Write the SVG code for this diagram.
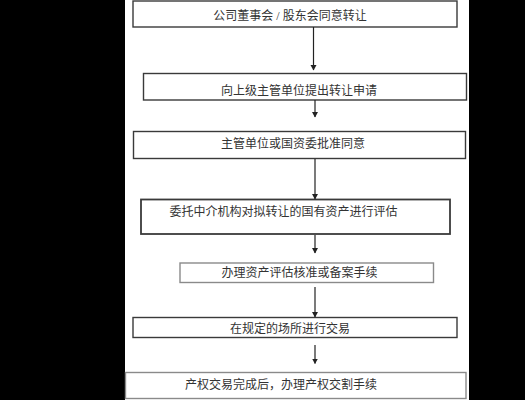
<svg xmlns="http://www.w3.org/2000/svg" width="525" height="400" viewBox="0 0 525 400">
<style>
.box{fill:#fff;stroke:#3a3a3a;stroke-width:1.4}
.lt{stroke:#8a8a8a}
.t{font-family:"Liberation Serif","Noto Sans CJK SC",serif;font-size:12px;fill:#333;dominant-baseline:central}
.c{text-anchor:middle}
.ln{stroke:#222;stroke-width:1.2;fill:none}
</style>
<defs>
<marker id="ah" markerWidth="6" markerHeight="7" refX="5" refY="3.5" orient="auto" markerUnits="userSpaceOnUse">
<path d="M0,0.5 L5.5,3.5 L0,6.5 Z" fill="#222"/>
</marker>
</defs>
<rect x="0" y="0" width="525" height="400" fill="#fff"/>
<rect x="0" y="0" width="125" height="400" fill="#000"/>
<rect x="469" y="0" width="56" height="400" fill="#000"/>
<g id="n1"><rect class="box" x="133" y="1" width="324" height="26"/><text class="t c" x="290" y="16">公司董事会 / 股东会同意转让</text></g>
<g id="n2"><rect class="box" x="143.5" y="73.5" width="323" height="26.5"/><text class="t c" x="299" y="91">向上级主管单位提出转让申请</text></g>
<g id="n3"><rect class="box" x="133.5" y="131.5" width="332" height="27"/><text class="t c" x="293" y="143.5">主管单位或国资委批准同意</text></g>
<g id="n4"><rect class="box" x="141" y="199.5" width="309" height="34.5" style="stroke-width:1.8"/><text class="t c" x="283.5" y="211.5">委托中介机构对拟转让的国有资产进行评估</text></g>
<g id="n5"><rect class="box lt" x="180" y="263" width="253.5" height="19.5"/><text class="t c" x="299.5" y="273">办理资产评估核准或备案手续</text></g>
<g id="n6"><rect class="box" x="133" y="317.5" width="324" height="20"/><text class="t c" x="290" y="328.5">在规定的场所进行交易</text></g>
<g id="n7"><rect class="box lt" x="125.5" y="372.5" width="340.5" height="26"/><text class="t c" x="281" y="384.5">产权交易完成后，办理产权交割手续</text></g>
<g id="connectors">
<line class="ln" x1="313.5" y1="27" x2="313.5" y2="70" marker-end="url(#ah)"/>
<line class="ln" x1="315" y1="100" x2="315" y2="117" marker-end="url(#ah)"/>
<line class="ln" x1="315" y1="159" x2="315" y2="199" marker-end="url(#ah)"/>
<line class="ln" x1="315" y1="235" x2="315" y2="253" marker-end="url(#ah)"/>
<line class="ln" x1="315" y1="287" x2="315" y2="317" marker-end="url(#ah)"/>
<line class="ln" x1="315" y1="345" x2="315" y2="363.5" marker-end="url(#ah)"/>
</g>
</svg>
